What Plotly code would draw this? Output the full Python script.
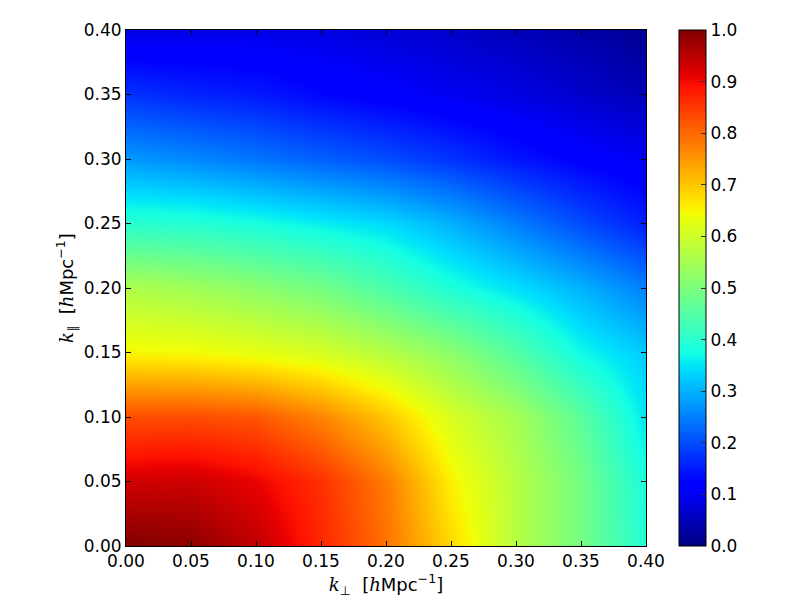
import plotly.graph_objects as go

# grid coordinates (h/Mpc)
k_perp = [0.00, 0.05, 0.10, 0.15, 0.20, 0.25, 0.30, 0.35, 0.40]
k_par = [0.00, 0.05, 0.10, 0.15, 0.20, 0.25, 0.30, 0.35, 0.40]

# values, one row per k_par, columns along k_perp
row_000 = [1.00, 0.99, 0.945, 0.87, 0.79, 0.68, 0.57, 0.49, 0.39]
row_005 = [0.93, 0.935, 0.91, 0.86, 0.78, 0.655, 0.57, 0.49, 0.38]
row_010 = [0.83, 0.83, 0.82, 0.77, 0.70, 0.61, 0.55, 0.46, 0.35]
row_015 = [0.65, 0.645, 0.63, 0.61, 0.57, 0.52, 0.45, 0.37, 0.325]
row_020 = [0.56, 0.545, 0.52, 0.49, 0.44, 0.385, 0.345, 0.30, 0.25]
row_025 = [0.40, 0.395, 0.38, 0.36, 0.34, 0.30, 0.25, 0.20, 0.155]
row_030 = [0.275, 0.26, 0.24, 0.22, 0.20, 0.175, 0.145, 0.12, 0.10]
row_035 = [0.175, 0.16, 0.15, 0.13, 0.115, 0.10, 0.085, 0.066, 0.05]
row_040 = [0.085, 0.09, 0.09, 0.085, 0.075, 0.065, 0.05, 0.035, 0.015]

z = [row_000, row_005, row_010, row_015, row_020, row_025, row_030, row_035, row_040]

# matplotlib "jet" segment data -> plotly colorscale
_red = [(0, 0), (0.35, 0), (0.66, 1), (0.89, 1), (1, 0.5)]
_green = [(0, 0), (0.125, 0), (0.375, 1), (0.64, 1), (0.91, 0), (1, 0)]
_blue = [(0, 0.5), (0.11, 1), (0.34, 1), (0.65, 0), (1, 0)]


def _interp(pts, v):
    for (x0, y0), (x1, y1) in zip(pts[:-1], pts[1:]):
        if x0 <= v <= x1:
            return y0 + (y1 - y0) * (v - x0) / (x1 - x0)
    return pts[-1][1]


stops = sorted({p[0] for p in _red + _green + _blue})
jet = [
    [s, "rgb({:.0f},{:.0f},{:.0f})".format(
        255 * _interp(_red, s), 255 * _interp(_green, s), 255 * _interp(_blue, s))]
    for s in stops
]

FONT = "DejaVu Sans"
SIZE = 17

fig = go.Figure()
fig.add_trace(go.Heatmap(
    x=k_perp,
    y=k_par,
    z=z,
    zmin=0,
    zmax=1,
    zsmooth="best",
    colorscale=jet,
    colorbar=dict(
        x=(671 - 118) / 520,
        xanchor="left",
        y=0.5,
        yanchor="middle",
        len=1,
        lenmode="fraction",
        thickness=27,
        outlinecolor="black",
        outlinewidth=1,
        ticks="inside",
        ticklen=5,
        tickcolor="#333",
        tickvals=[0.0, 0.1, 0.2, 0.3, 0.4, 0.5, 0.6, 0.7, 0.8, 0.9, 1.0],
        ticktext=["0.0", "0.1", "0.2", "0.3", "0.4", "0.5", "0.6", "0.7", "0.8", "0.9", "1.0"],
        tickfont=dict(family=FONT, size=SIZE, color="black"),
        ypad=0,
        xpad=0,
    ),
    hovertemplate="k_perp: %{x}<br>k_par: %{y}<br>%{z:.2f}<extra></extra>",
))

axis_common = dict(
    range=[0, 0.4],
    tickvals=[0.0, 0.05, 0.1, 0.15, 0.2, 0.25, 0.3, 0.35, 0.4],
    ticktext=["0.00", "0.05", "0.10", "0.15", "0.20", "0.25", "0.30", "0.35", "0.40"],
    ticks="inside",
    ticklen=5,
    tickcolor="black",
    showline=True,
    linecolor="black",
    linewidth=1,
    mirror="allticks",
    showgrid=False,
    zeroline=False,
    tickfont=dict(family=FONT, size=SIZE, color="black"),
)

k_italic = "<span style='font-family:DejaVu Serif'><i>k</i></span>"
h_italic = "<span style='font-family:DejaVu Serif'><i>h</i></span>"

# page body adds an 8px offset, so the figure is 792x592
fig.update_layout(
    width=792,
    height=592,
    margin=dict(l=118, r=154, t=18, b=54),
    paper_bgcolor="white",
    plot_bgcolor="white",
    font=dict(family=FONT, size=SIZE, color="black"),
    xaxis=dict(
        **axis_common,
        title=dict(text=f"{k_italic}<sub>⊥</sub>  [{h_italic}Mpc<sup>−1</sup>]",
                   font=dict(family=FONT, size=18), standoff=3),
    ),
    yaxis=dict(
        **axis_common,
        title=dict(text=f"{k_italic}<sub>∥</sub>  [{h_italic}Mpc<sup>−1</sup>]",
                   font=dict(family=FONT, size=18), standoff=5),
    ),
)

fig.write_html("out.html")
